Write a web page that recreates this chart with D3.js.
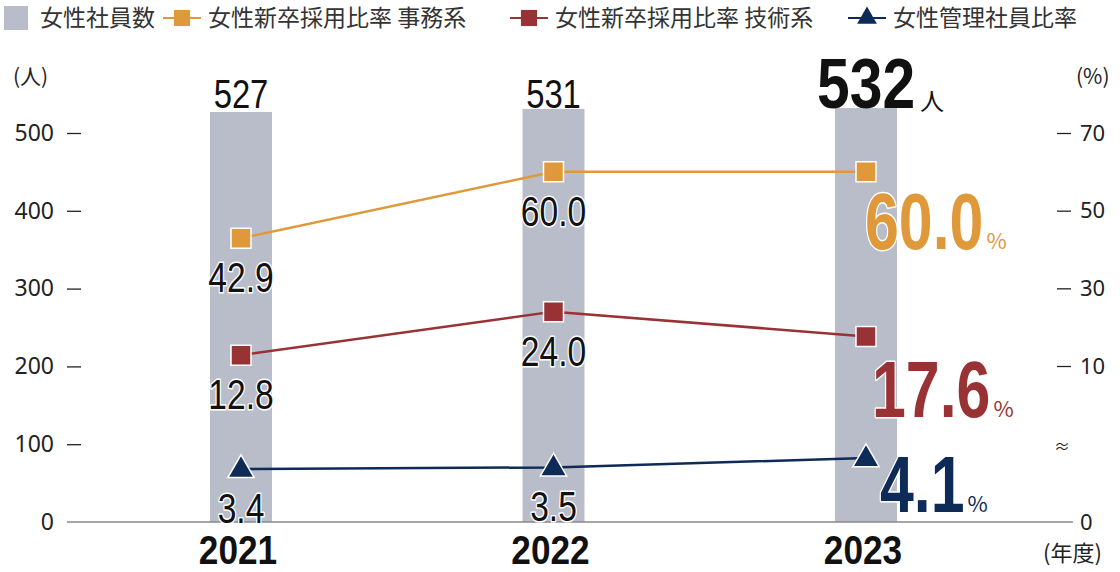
<!DOCTYPE html>
<html lang="ja">
<head>
<meta charset="UTF-8">
<title>女性社員数と比率</title>
<script src="https://d3js.org/d3.v7.min.js"></script>
<style>
  body { margin: 0; background: #fff; }
  svg { display: block; font-family: "Noto Sans CJK JP", "Noto Sans", sans-serif; }
  .num { font-family: "Liberation Sans", Arial, sans-serif; }
  .halo { paint-order: stroke; stroke: #fff; stroke-width: 3px; stroke-linejoin: round; }
  .tick text { fill: #222; font-family: "Noto Sans", sans-serif; }
  .tick line { stroke: #222; stroke-width: 1.3; }
</style>
</head>
<body>
<svg width="1120" height="572"></svg>
<script>
// data
const years = ["2021", "2022", "2023"];
const employees = [527, 531, 532];
const officeRate = [42.9, 60.0, 60.0];
const techRate = [12.8, 24.0, 17.6];
const managerRate = [3.4, 3.5, 4.1];
const leftTicks = [0, 100, 200, 300, 400, 500];
const rightTicksUpper = [10, 30, 50, 70];
const rightTicksLower = [0];
const legendNames = ["女性社員数", "女性新卒採用比率 事務系", "女性新卒採用比率 技術系", "女性管理社員比率"];

const colors = { bar: "#b9bdc9", office: "#e0993a", tech: "#993234", manager: "#0e2a56" };

const svg = d3.select("svg");
const baseY = 522;

const x = d3.scalePoint().domain(years).range([241, 866]);
const yL = d3.scaleLinear().domain([0, 500]).range([baseY, 133]);
const yUp = d3.scaleLinear().domain([10, 70]).range([366, 133]);
const yLow = d3.scaleLinear().domain([0, 5]).range([baseY, 444]);
const yR = v => v < 8 ? yLow(v) : yUp(v);

// condensed number text (no condensed font installed, so squeeze horizontally)
function numText(parent, px, py, str, o) {
  const g = parent.append("g").attr("transform", `translate(${px},${py}) scale(${o.sx},1)`);
  const t = g.append("text")
    .attr("class", "num" + (o.halo ? " halo" : ""))
    .attr("text-anchor", o.anchor || "middle")
    .attr("font-size", o.size)
    .attr("font-weight", o.bold ? "bold" : "normal")
    .attr("fill", o.color || "#111")
    .text(str);
  return t.node().getComputedTextLength() * o.sx;
}

// bars
const barW = 62;
svg.selectAll(".bar")
  .data(employees)
  .enter().append("rect")
  .attr("fill", colors.bar)
  .attr("x", (d, i) => x(years[i]) - barW / 2)
  .attr("y", d => yL(d))
  .attr("width", barW)
  .attr("height", d => baseY - yL(d));

// baseline
svg.append("line")
  .attr("x1", 67).attr("x2", 1073)
  .attr("y1", baseY).attr("y2", baseY)
  .attr("stroke", "#888").attr("stroke-width", 1.5);

// axes
const gl = svg.append("g").attr("transform", "translate(81,0)")
  .call(d3.axisLeft(yL).tickValues(leftTicks).tickSize(14).tickPadding(13));
gl.attr("font-family", null).attr("font-size", 23);
gl.select(".domain").remove();
gl.selectAll(".tick").filter(d => d === 0).select("line").remove();

const gr = svg.append("g").attr("transform", "translate(1057,0)")
  .call(d3.axisRight(yUp).tickValues(rightTicksUpper).tickSize(14).tickPadding(9));
gr.attr("font-family", null).attr("font-size", 22);
gr.select(".domain").remove();
const gr0 = svg.append("g").attr("transform", "translate(1057,0)")
  .call(d3.axisRight(yLow).tickValues(rightTicksLower).tickFormat(d3.format("d")).tickSize(14).tickPadding(9));
gr0.attr("font-family", null).attr("font-size", 22);
gr0.select(".domain").remove();
gr0.selectAll(".tick line").remove();

svg.append("text").attr("x", 1062).attr("y", 452).attr("font-size", 16)
  .attr("text-anchor", "middle").attr("fill", "#222").text("≈");

// axis titles
svg.append("text").attr("x", 13).attr("y", 84).attr("font-size", 21).attr("fill", "#222").text("(人)");
svg.append("text").attr("x", 1076).attr("y", 84).attr("font-size", 21).attr("fill", "#222").text("(%)");
svg.append("text").attr("x", 1043).attr("y", 561).attr("font-size", 22).attr("fill", "#222").text("(年度)");

// year labels
years.forEach(yr => {
  numText(svg, x(yr) - 3, 564, yr, { size: 40, bold: true, sx: 0.88 });
});

// employee labels
employees.forEach((v, i) => {
  if (i < employees.length - 1) {
    numText(svg, x(years[i]), 108, v, { size: 40, sx: 0.82 });
  } else {
    const w = numText(svg, x(years[i]) - 49, 108, v, { size: 70, bold: true, sx: 0.84, anchor: "start" });
    svg.append("text").attr("x", x(years[i]) - 49 + w + 5).attr("y", 110)
      .attr("font-size", 24).attr("fill", "#111").text("人");
  }
});

// lines and markers
const series = [
  { vals: officeRate, color: colors.office, shape: "square", dyL: 77, dxL: -1 },
  { vals: techRate, color: colors.tech, shape: "square", dyL: 81, dxL: 6 },
  { vals: managerRate, color: colors.manager, shape: "triangle", dyL: 54, dxL: 14 }
];

const line = d3.line().x((d, i) => x(years[i])).y(d => yR(d));

series.forEach(s => {
  svg.append("path")
    .datum(s.vals)
    .attr("d", line)
    .attr("fill", "none")
    .attr("stroke", s.color)
    .attr("stroke-width", 2.5);

  const sym = s.shape === "square" ? d3.symbolSquare : d3.symbolTriangle;
  svg.selectAll(null)
    .data(s.vals)
    .enter().append("path")
    .attr("d", d3.symbol(sym, s.shape === "square" ? 400 : 300))
    .attr("transform", (d, i) => `translate(${x(years[i])},${yR(d) + (s.shape === "triangle" ? 1 : 0)})`)
    .attr("fill", s.color)
    .attr("stroke", "#fff")
    .attr("stroke-width", 1.5);

  s.vals.forEach((v, i) => {
    if (i < s.vals.length - 1) {
      numText(svg, x(years[i]), yR(v) + 54, v.toFixed(1), { size: 42, sx: 0.8, halo: true });
    } else {
      const lx = x(years[i]) + s.dxL, ly = yR(v) + s.dyL;
      const w = numText(svg, lx, ly, v.toFixed(1), { size: 79, bold: true, sx: 0.77, anchor: "start", halo: true, color: s.color });
      svg.append("text").attr("x", lx + w + 3).attr("y", ly)
        .attr("font-size", 22).attr("fill", s.color).text("%");
    }
  });
});

// legend
const legend = svg.append("g").attr("transform", "translate(0,18)");
const legendX = [4, 163, 510, 848];
legendNames.forEach((name, i) => {
  const g = legend.append("g").attr("transform", `translate(${legendX[i]},0)`);
  let tx;
  if (i === 0) {
    g.append("rect").attr("x", 0).attr("y", -12).attr("width", 24).attr("height", 24).attr("fill", colors.bar);
    tx = 36;
  } else {
    const c = [colors.office, colors.tech, colors.manager][i - 1];
    g.append("line").attr("x1", 0).attr("x2", 38).attr("stroke", c).attr("stroke-width", 2);
    g.append("path")
      .attr("d", d3.symbol(i === 3 ? d3.symbolTriangle : d3.symbolSquare, i === 3 ? 170 : 260))
      .attr("transform", "translate(19,0)")
      .attr("fill", c);
    tx = 45;
  }
  g.append("text").attr("x", tx).attr("y", 8).attr("font-size", 23).attr("fill", "#333").text(name);
});
</script>
</body>
</html>
